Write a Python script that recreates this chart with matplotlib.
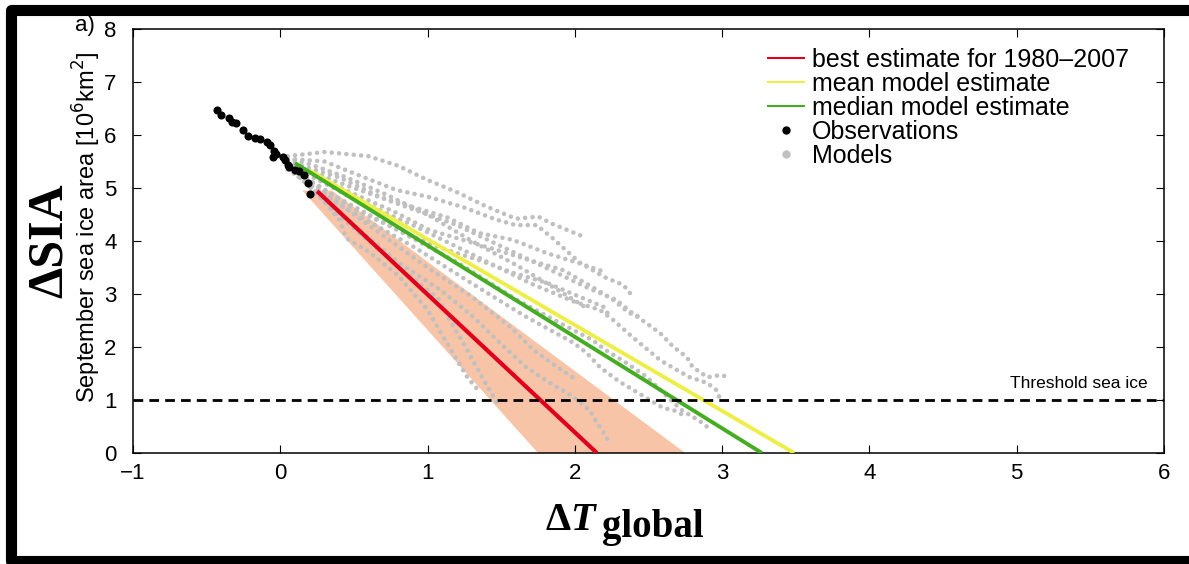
import matplotlib

matplotlib.use("Agg")
import matplotlib.pyplot as plt
from matplotlib.lines import Line2D

plt.rcParams["font.family"] = ["Liberation Sans", "DejaVu Sans"]

# observations (global dT, September SIA)
obs_x = [-0.43, -0.40, -0.35, -0.33, -0.30, -0.25, -0.22, -0.17, -0.14, -0.09,
         -0.07, -0.04, -0.05, -0.03, 0.02, 0.03, 0.05, 0.06, 0.10, 0.13, 0.16,
         0.19, 0.20]
obs_y = [6.47, 6.38, 6.33, 6.25, 6.22, 6.09, 5.98, 5.94, 5.92, 5.86, 5.82, 5.70,
         5.59, 5.64, 5.59, 5.53, 5.43, 5.40, 5.34, 5.32, 5.25, 5.09, 4.88]

# model runs
models_dT = [
    [0.05, 0.3, 0.6, 0.8, 1.0, 1.2, 1.4, 1.6, 1.75, 1.85, 2.06],
    [0.05, 0.3, 0.56, 0.79, 1.01, 1.24, 1.47, 1.6, 1.74, 1.85, 2.03, 2.2, 2.33, 2.38],
    [0.05, 0.4, 0.68, 0.9, 1.13, 1.35, 1.58, 1.81, 2.03, 2.22],
    [0.05, 0.45, 0.79, 1.01, 1.24, 1.47, 1.69, 1.92, 2.15, 2.26, 2.37, 2.43],
    [0.05, 0.5, 0.9, 1.13, 1.35, 1.58, 1.81, 2.03, 2.2, 2.24],
    [0.05, 0.4, 0.8, 1.2, 1.5, 1.8, 2.1, 2.28, 2.39, 2.58, 2.67, 2.76, 2.8, 2.9, 2.99, 3.05],
    [0.05, 0.5, 0.9, 1.3, 1.7, 2.0, 2.17, 2.26, 2.39, 2.58, 2.69, 2.78, 2.9, 2.96, 2.98],
    [0.05, 0.4, 0.8, 1.2, 1.6, 1.9, 2.12, 2.21, 2.35, 2.49, 2.58, 2.65, 2.73, 2.85, 2.9],
    [0.05, 0.45, 0.9, 1.3, 1.65, 1.99, 2.08, 2.17, 2.3, 2.45, 2.6, 2.67, 2.76],
    [0.1, 0.3, 0.5, 0.8, 1.1, 1.31, 1.49, 1.67, 1.83, 1.99, 2.10, 2.17, 2.24],
    [0.1, 0.35, 0.6, 0.9, 1.08, 1.15, 1.27, 1.38, 1.49],
    [0.1, 0.4, 0.7, 1.0, 1.3, 1.56, 1.72, 1.88, 2.01],
    [0.05, 0.25, 0.4, 0.45, 0.6, 0.8, 1.0, 1.17, 1.27, 1.36],
    [0.0, 0.2, 0.45, 0.7, 1.0, 1.3, 1.6, 1.9, 2.1],
]
models_sia = [
    [5.60, 5.68, 5.60, 5.42, 5.15, 4.92, 4.65, 4.42, 4.46, 4.32, 4.08],
    [5.55, 5.50, 5.21, 4.96, 4.83, 4.64, 4.40, 4.30, 4.30, 4.05, 3.60, 3.32, 3.17, 3.00],
    [5.50, 5.20, 4.83, 4.64, 4.45, 4.15, 4.02, 3.77, 3.58, 3.40],
    [5.45, 4.95, 4.53, 4.21, 4.02, 3.83, 3.64, 3.45, 3.08, 2.89, 2.64, 2.58],
    [5.40, 4.60, 4.08, 3.83, 3.64, 3.40, 3.21, 2.95, 2.75, 2.55],
    [5.50, 5.10, 4.70, 4.30, 3.90, 3.50, 3.10, 2.89, 2.64, 2.26, 2.00, 1.81, 1.62, 1.43, 1.47, 1.43],
    [5.45, 4.80, 4.30, 3.75, 3.20, 2.85, 2.70, 2.51, 2.19, 1.75, 1.57, 1.43, 1.32, 1.19, 1.06],
    [5.40, 4.80, 4.20, 3.60, 2.90, 2.45, 2.13, 1.94, 1.70, 1.43, 1.19, 1.00, 0.80, 0.60, 0.49],
    [5.35, 4.60, 3.90, 3.20, 2.60, 2.08, 1.89, 1.62, 1.35, 1.10, 0.85, 0.81, 0.68],
    [5.30, 4.80, 4.30, 3.60, 3.05, 2.57, 2.08, 1.62, 1.32, 1.06, 0.81, 0.49, 0.19],
    [5.30, 4.60, 4.00, 3.30, 2.89, 2.51, 1.94, 1.38, 0.87],
    [5.35, 4.70, 4.10, 3.50, 2.95, 2.38, 1.94, 1.62, 1.38],
    [5.40, 4.90, 4.40, 4.05, 3.80, 3.35, 2.70, 1.89, 1.43, 1.13],
    [5.60, 5.45, 5.20, 4.90, 4.50, 4.00, 3.55, 3.05, 2.70],
]

# fitted lines (end points) and uncertainty range of the best estimate
best_x, best_y = [0.25, 2.15], [4.94, 0.0]
mean_x, mean_y = [0.20, 3.49], [5.33, 0.0]
median_x, median_y = [0.10, 3.27], [5.47, 0.0]
band_x = [0.15, 0.35, 2.75, 1.75]
band_y = [4.95, 4.95, 0.0, 0.0]
threshold = 1.0

RED, YEL, GRN, GREY = "#e0001b", "#eeee48", "#44ad22", "#c0c0c0"

fig = plt.figure(figsize=(11.89, 5.64), dpi=100)
ax = fig.add_axes([0.1119, 0.1968, 0.867, 0.7518])

ax.fill(band_x, band_y, color="#f8c4a8", lw=0, zorder=1)
for xs, ys in zip(models_dT, models_sia):
    ax.plot(xs, ys, color=GREY, lw=3.3, ls=(0, (0.01, 1.6)),
            dash_capstyle="round", zorder=2)
ax.plot(best_x, best_y, color=RED, lw=3, zorder=3, solid_capstyle="butt")
ax.plot(mean_x, mean_y, color=YEL, lw=2.8, zorder=3, solid_capstyle="butt")
ax.plot(median_x, median_y, color=GRN, lw=2.8, zorder=3, solid_capstyle="butt")
ax.scatter(obs_x, obs_y, s=34, color="k", lw=0, zorder=5)
ax.axhline(threshold, color="k", lw=2, dashes=(3.5, 2.2), zorder=6)
ax.text(5.89, threshold + 0.32, "Threshold sea ice", ha="right", va="center",
        fontsize=12.5)

ax.set_xlim(-1, 6)
ax.set_ylim(0, 8)
ax.set_xticks(range(-1, 7))
ax.set_yticks(range(0, 9))
ax.tick_params(direction="in", top=True, right=True, length=6, width=0.8,
               labelsize=16)
ax.tick_params(axis="x", pad=7)
ax.tick_params(axis="y", pad=12)
for s in ax.spines.values():
    s.set_linewidth(1.1)

ax.set_ylabel("September sea ice area [10$^6$km$^2$]", fontsize=17)
ax.yaxis.set_label_coords(-0.029, 0.532)

handles = [
    Line2D([], [], color=RED, lw=1.5),
    Line2D([], [], color=YEL, lw=1.5),
    Line2D([], [], color=GRN, lw=1.5),
    Line2D([], [], color="k", ls="", marker="o", ms=5),
    Line2D([], [], color=GREY, ls="", marker="o", ms=5),
]
labels = ["best estimate for 1980\u20132007", "mean model estimate",
          "median model estimate", "Observations", "Models"]
ax.legend(handles, labels, loc="upper right", bbox_to_anchor=(0.978, 0.985),
          frameon=False, fontsize=18, handlelength=1.45, handletextpad=0.3,
          labelspacing=0.0, borderpad=0)

# big labels
fig.text(50 / 1189, 1 - 241 / 564, "\u0394SIA", rotation=90, ha="center",
         va="center", fontsize=36, fontweight="bold", family="Liberation Serif")
fig.text(545 / 1189, 1 - 530 / 564, "\u0394", fontsize=29, fontweight="bold",
         family="Liberation Serif", va="baseline")
fig.text(570 / 1189, 1 - 530 / 564, "T", fontsize=29, fontweight="bold",
         style="italic", family="Liberation Serif", va="baseline")
fig.text(602 / 1189, 1 - 537 / 564, "global", fontsize=28, fontweight="bold",
         family="Liberation Serif", va="baseline")
fig.text(75 / 1189, 1 - 31 / 564, "a)", fontsize=16, va="baseline")

# thick panel frame (left, top, bottom)
fx = [1.0, 10.5 / 1189, 10.5 / 1189, 1.0]
fy = [1 - 9.5 / 564, 1 - 9.5 / 564, 3 / 564, 3 / 564]
fig.add_artist(Line2D(fx, fy, transform=fig.transFigure, color="k", lw=8,
                      solid_joinstyle="round"))

fig.savefig("out.png", dpi=100)
